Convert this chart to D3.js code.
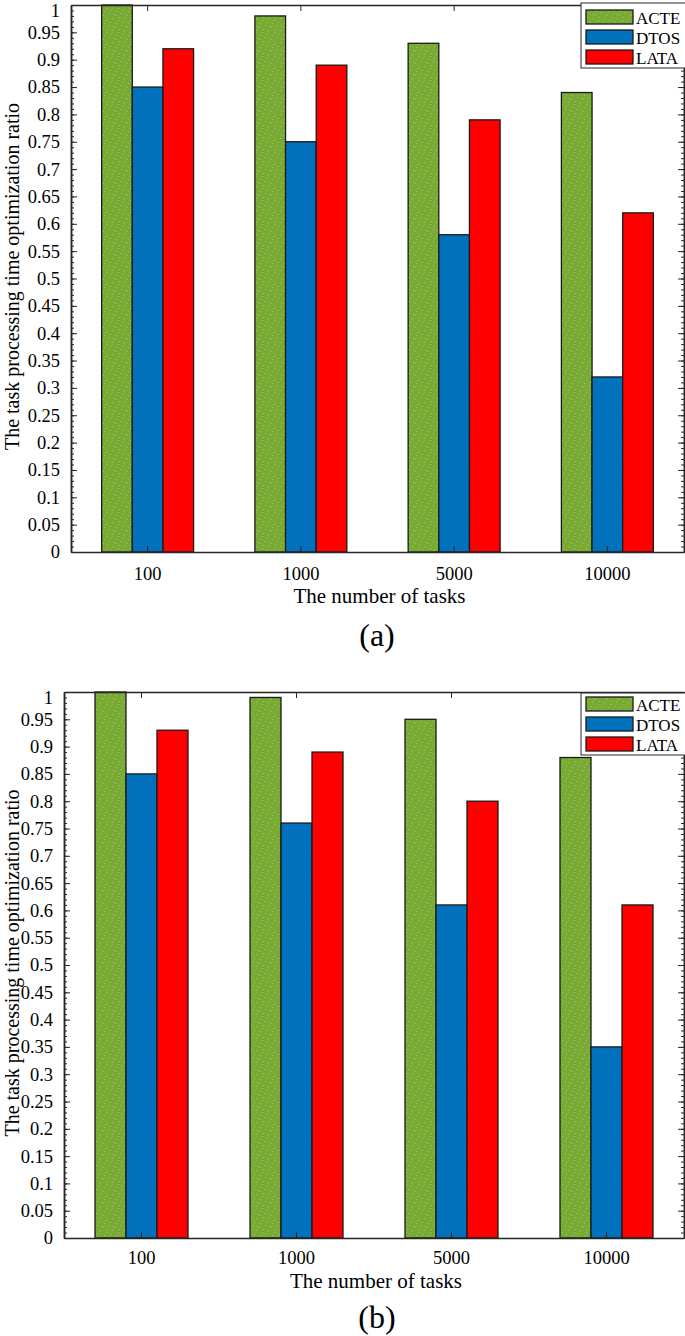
<!DOCTYPE html>
<html><head><meta charset="utf-8">
<script src="https://cdn.jsdelivr.net/npm/d3@7"></script>
<style>body{margin:0;background:#fff}svg{display:block}</style>
</head><body>
<script>
const categories = ["100", "1000", "5000", "10000"];
const seriesNames = ["ACTE", "DTOS", "LATA"];
const acteA = [1.00, 0.98, 0.93, 0.84];
const dtosA = [0.85, 0.75, 0.58, 0.32];
const lataA = [0.92, 0.89, 0.79, 0.62];
const acteB = [1.00, 0.99, 0.95, 0.88];
const dtosB = [0.85, 0.76, 0.61, 0.35];
const lataB = [0.93, 0.89, 0.80, 0.61];
const yTickLabels = ["0","0.05","0.1","0.15","0.2","0.25","0.3","0.35","0.4","0.45","0.5","0.55","0.6","0.65","0.7","0.75","0.8","0.85","0.9","0.95","1"];
const colors = ["#77AC30", "#0072BD", "#FF0000"];

const W = 685, H = 1336;
const svg = d3.select("body").append("svg").attr("width", W).attr("height", H);
const defs = svg.append("defs");
function dotPattern(id, base, dot, pts) {
  const p = defs.append("pattern").attr("id", id).attr("patternUnits", "userSpaceOnUse")
    .attr("width", 12).attr("height", 12);
  p.append("rect").attr("width", 12).attr("height", 12).attr("fill", base);
  pts.forEach(d => p.append("rect").attr("x", d[0]).attr("y", d[1]).attr("width", 1).attr("height", 1).attr("fill", dot));
}
dotPattern("pG", colors[0], "#b8b0b8", [[1,1],[7,3],[4,6],[10,8],[2,10],[8,11],[5,2],[11,5]]);
dotPattern("pB", colors[1], "#2a6fa8", [[2,2],[8,5],[5,9],[11,11]]);
const fills = ["url(#pG)", "url(#pB)", colors[2]];

const font = "'Liberation Serif','Times New Roman',serif";
const axisColor = "#262626";

function panel(cfg) {
  const {left, right, top, bottom, data, legend, tag, xTickY, xTitleY, tagY} = cfg;
  const g = svg.append("g");
  const x = d3.scaleBand().domain(categories).range([left, right]).paddingInner(0).paddingOuter(0);
  const y = d3.scaleLinear().domain([0, 1]).range([bottom, top]);
  const inner = d3.scaleBand().domain(seriesNames).range([0, x.bandwidth() * 0.6]);
  const off = (x.bandwidth() - x.bandwidth() * 0.6) / 2;

  seriesNames.forEach((s, si) => {
    g.selectAll(null).data(data[si]).enter().append("rect")
      .attr("x", (d, i) => x(categories[i]) + off + inner(s))
      .attr("y", d => y(d))
      .attr("width", inner.bandwidth())
      .attr("height", d => y(0) - y(d))
      .attr("fill", fills[si])
      .attr("stroke", "#1a1a1a").attr("stroke-width", 1.3);
  });

  const minor = d3.range(0, 101).map(i => i / 100);
  const major = yTickLabels.map(Number);
  const yL = d3.axisLeft(y).tickValues(major).tickFormat((d, i) => yTickLabels[i]).tickSizeInner(-6).tickSizeOuter(0).tickPadding(11);
  const yLm = d3.axisLeft(y).tickValues(minor).tickFormat("").tickSizeInner(-3).tickSizeOuter(0);
  const yR = d3.axisRight(y).tickValues(major).tickFormat("").tickSizeInner(-6).tickSizeOuter(0);
  const yRm = d3.axisRight(y).tickValues(minor).tickFormat("").tickSizeInner(-3).tickSizeOuter(0);
  const xB = d3.axisBottom(x).tickSizeInner(-6).tickSizeOuter(0);
  const xT = d3.axisTop(x).tickFormat("").tickSizeInner(-6).tickSizeOuter(0);

  const ax = [
    g.append("g").attr("transform", `translate(${left},0)`).call(yLm),
    g.append("g").attr("transform", `translate(${left},0)`).call(yL),
    g.append("g").attr("transform", `translate(${right},0)`).call(yRm),
    g.append("g").attr("transform", `translate(${right},0)`).call(yR),
    g.append("g").attr("transform", `translate(0,${bottom})`).call(xB),
    g.append("g").attr("transform", `translate(0,${top})`).call(xT)
  ];
  ax.forEach(a => {
    a.select(".domain").attr("stroke", axisColor).attr("stroke-width", 1.5);
    a.selectAll(".tick line").attr("stroke", axisColor).attr("stroke-width", 1);
    a.selectAll(".tick text").attr("font-family", font).attr("font-size", 18.5).attr("fill", "#000");
  });
  ax[1].selectAll(".tick text").filter(d => d === 1).attr("dy", "0.6em");
  ax[4].selectAll(".tick text").attr("y", xTickY - bottom).attr("dy", 0);

  g.append("text").attr("x", (left + right) / 2 + 2).attr("y", xTitleY)
    .attr("text-anchor", "middle").attr("font-family", font).attr("font-size", 21)
    .text("The number of tasks");
  g.append("text").attr("transform", `translate(19,${(top + bottom) / 2 - 2}) rotate(-90)`)
    .attr("text-anchor", "middle").attr("font-family", font).attr("font-size", 20)
    .text("The task processing time optimization ratio");
  g.append("text").attr("x", 377).attr("y", tagY).attr("text-anchor", "middle")
    .attr("font-family", font).attr("font-size", 32).text(tag);

  const lg = g.append("g");
  lg.append("rect").attr("x", legend.x).attr("y", legend.y).attr("width", 120).attr("height", legend.h)
    .attr("fill", "#fff").attr("stroke", axisColor).attr("stroke-width", 1);
  seriesNames.forEach((s, i) => {
    const yy = legend.y + legend.first + i * legend.step;
    lg.append("rect").attr("x", legend.x + 5).attr("y", yy).attr("width", 47).attr("height", 14)
      .attr("fill", fills[i]).attr("stroke", "#1a1a1a").attr("stroke-width", 1.3);
    lg.append("text").attr("x", legend.x + 55).attr("y", yy + 14)
      .attr("font-family", font).attr("font-size", 17).text(s);
  });
}

panel({left: 71, right: 684, top: 5, bottom: 552, data: [acteA, dtosA, lataA],
  legend: {x: 581, y: 3, h: 65, first: 7, step: 20}, tag: "(a)", xTickY: 580, xTitleY: 603, tagY: 646});
panel({left: 64, right: 684, top: 692, bottom: 1238, data: [acteB, dtosB, lataB],
  legend: {x: 581, y: 693, h: 62, first: 4, step: 20}, tag: "(b)", xTickY: 1264, xTitleY: 1288, tagY: 1328});
</script>
</body></html>
